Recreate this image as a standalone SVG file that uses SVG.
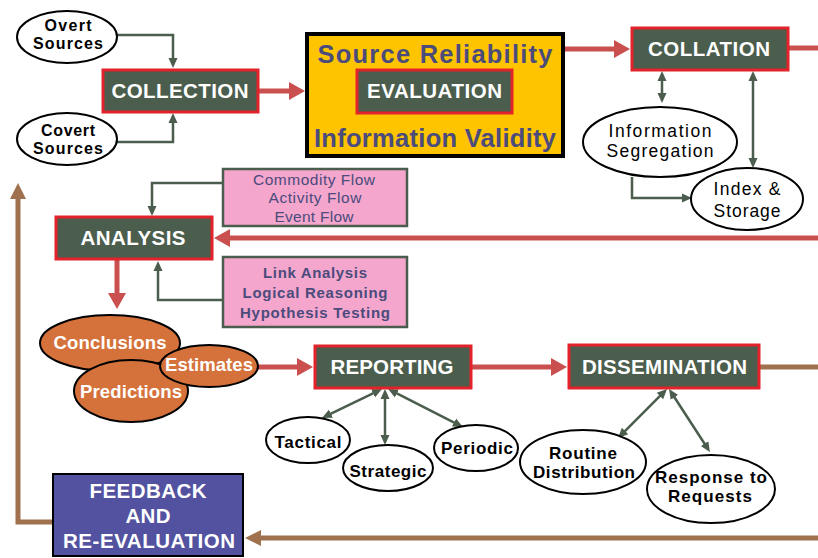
<svg xmlns="http://www.w3.org/2000/svg" width="818" height="558" viewBox="0 0 818 558">
<style>
.box{fill:#4b5d4d;stroke:#e3232b;stroke-width:3}
.bt{font-family:"Liberation Sans",Arial,sans-serif;font-weight:bold;font-size:20.5px;fill:#fff;text-anchor:middle}
.el{fill:#fff;stroke:#000;stroke-width:2}
.et{font-family:"Liberation Sans",Arial,sans-serif;font-size:17.5px;fill:#000;text-anchor:middle}
.es{font-size:16px;font-weight:bold}
.eb{font-weight:bold;font-size:17px}
.or{fill:#d5713a;stroke:#000;stroke-width:2}
.ot{font-family:"Liberation Sans",Arial,sans-serif;font-weight:bold;font-size:18.5px;fill:#fff;text-anchor:middle}
.pk{fill:#f4a6cc;stroke:#4b5d4d;stroke-width:2.5}
.pt{font-family:"Liberation Sans",Arial,sans-serif;font-size:15.5px;fill:#4b4b7c;text-anchor:middle}
.ptb{font-weight:bold;font-size:15px}
.yt{font-family:"Liberation Sans",Arial,sans-serif;font-weight:bold;font-size:25.5px;fill:#4b4b7c;text-anchor:middle}
.red{fill:none;stroke:#c9504f;stroke-width:5}
.brn{fill:none;stroke:#a0714f;stroke-width:5}
.dk{fill:none;stroke:#4b5d4d;stroke-width:2.5}
</style>
<defs>
<marker id="ar" markerUnits="userSpaceOnUse" markerWidth="16" markerHeight="18" refX="6" refY="9" orient="auto"><path d="M0,0 L16,9 L0,18 z" fill="#c9504f"/></marker>
<marker id="ab" markerUnits="userSpaceOnUse" markerWidth="16" markerHeight="16" refX="6" refY="8" orient="auto"><path d="M0,0 L16,8 L0,16 z" fill="#a0714f"/></marker>
<marker id="ad" markerUnits="userSpaceOnUse" markerWidth="10" markerHeight="10" refX="4" refY="5" orient="auto-start-reverse"><path d="M0,0.5 L10,5 L0,9.5 z" fill="#4b5d4d"/></marker>
</defs>

<g id="connectors">
<path class="dk" d="M117,35 H173 V62" marker-end="url(#ad)"/>
<path class="dk" d="M117,142 H173 V119" marker-end="url(#ad)"/>
<path class="red" d="M258,91 H295" marker-end="url(#ar)"/>
<path class="red" d="M565,49 H620" marker-end="url(#ar)"/>
<path class="red" d="M788,48 H818"/>
<path class="dk" d="M662,77 V97" marker-start="url(#ad)" marker-end="url(#ad)"/>
<path class="dk" d="M753,77 V162" marker-start="url(#ad)" marker-end="url(#ad)"/>
<path class="dk" d="M632,177 V198 H686" marker-end="url(#ad)"/>
<path class="red" d="M818,238 H224" marker-end="url(#ar)"/>
<path class="dk" d="M223,183 H152 V210" marker-end="url(#ad)"/>
<path class="dk" d="M223,300 H158 V267" marker-end="url(#ad)"/>
<path class="red" d="M117,260 V299" marker-end="url(#ar)"/>
<path class="red" d="M258,367 H303" marker-end="url(#ar)"/>
<path class="red" d="M471,367 H557" marker-end="url(#ar)"/>
<path class="brn" d="M759,367 H818"/>
<path class="brn" d="M818,538 H255" marker-end="url(#ab)"/>
<path class="brn" d="M53,522 H18 V193" marker-end="url(#ab)"/>
<path class="dk" d="M376.6,391.6 L327.4,415.4" marker-start="url(#ad)" marker-end="url(#ad)"/>
<path class="dk" d="M385,395 V439" marker-start="url(#ad)" marker-end="url(#ad)"/>
<path class="dk" d="M393.4,391.7 L457.6,424.3" marker-start="url(#ad)" marker-end="url(#ad)"/>
<path class="dk" d="M662.8,393.2 L622.2,433.8" marker-start="url(#ad)" marker-end="url(#ad)"/>
<path class="dk" d="M672.3,394 L706.7,447" marker-start="url(#ad)" marker-end="url(#ad)"/>
</g>

<g id="overt">
<ellipse class="el" cx="67" cy="37" rx="50" ry="26"/>
<text class="et es" x="68" y="31" textLength="47">Overt</text>
<text class="et es" x="68" y="49" textLength="70">Sources</text>
</g>
<g id="covert">
<ellipse class="el" cx="67" cy="139" rx="50" ry="26"/>
<text class="et es" x="68" y="136" textLength="54">Covert</text>
<text class="et es" x="68" y="154" textLength="70">Sources</text>
</g>
<g id="collection">
<rect class="box" x="103" y="70" width="155" height="42"/>
<text class="bt" x="180" y="98" textLength="137">COLLECTION</text>
</g>
<g id="evaluation">
<rect x="307" y="34" width="256" height="122" fill="#fec400" stroke="#000" stroke-width="4"/>
<text class="yt" x="435" y="63" textLength="235">Source Reliability</text>
<text class="yt" x="435" y="147" textLength="242">Information Validity</text>
<rect class="box" x="357" y="70" width="155" height="43"/>
<text class="bt" x="434.5" y="98" font-size="19" textLength="135">EVALUATION</text>
</g>
<g id="collation">
<rect class="box" x="632" y="28" width="156" height="42"/>
<text class="bt" x="709" y="56" textLength="122">COLLATION</text>
</g>
<g id="segregation">
<ellipse class="el" cx="660" cy="142" rx="77" ry="35"/>
<text class="et" x="660" y="137" textLength="103">Information</text>
<text class="et" x="660" y="157" textLength="107">Segregation</text>
</g>
<g id="storage">
<ellipse class="el" cx="747" cy="199" rx="56" ry="31"/>
<text class="et" x="747" y="195" textLength="67">Index &amp;</text>
<text class="et" x="747" y="217" textLength="67">Storage</text>
</g>
<g id="flows">
<rect class="pk" x="223" y="169" width="184" height="57"/>
<text class="pt" x="314" y="185" textLength="122">Commodity Flow</text>
<text class="pt" x="315" y="203" textLength="93">Activity Flow</text>
<text class="pt" x="314" y="222" textLength="79">Event Flow</text>
</g>
<g id="analysis">
<rect class="box" x="56" y="217" width="156" height="42"/>
<text class="bt" x="133" y="245" textLength="105">ANALYSIS</text>
</g>
<g id="methods">
<rect class="pk" x="223" y="257" width="184" height="70"/>
<text class="pt ptb" x="315" y="278" textLength="104">Link Analysis</text>
<text class="pt ptb" x="315" y="298" textLength="145">Logical Reasoning</text>
<text class="pt ptb" x="315" y="318" textLength="150">Hypothesis Testing</text>
</g>
<g id="conclusions">
<ellipse class="or" cx="110" cy="343" rx="70" ry="28"/>
<text class="ot" x="110" y="349" textLength="113">Conclusions</text>
</g>
<g id="predictions">
<ellipse class="or" cx="131" cy="391" rx="57" ry="31"/>
<text class="ot" x="131" y="398" textLength="102">Predictions</text>
</g>
<g id="estimates">
<ellipse class="or" cx="209" cy="366" rx="49" ry="21"/>
<text class="ot" x="209" y="371" textLength="88">Estimates</text>
</g>
<g id="reporting">
<rect class="box" x="315" y="346" width="156" height="42"/>
<text class="bt" x="392" y="374" textLength="123">REPORTING</text>
</g>
<g id="tactical">
<ellipse class="el" cx="308" cy="440" rx="42" ry="23"/>
<text class="et eb" x="308" y="448" textLength="67">Tactical</text>
</g>
<g id="strategic">
<ellipse class="el" cx="388" cy="468" rx="45" ry="23"/>
<text class="et eb" x="388" y="477" textLength="77">Strategic</text>
</g>
<g id="periodic">
<ellipse class="el" cx="476" cy="448" rx="42" ry="23"/>
<text class="et eb" x="477" y="454" textLength="72">Periodic</text>
</g>
<g id="dissemination">
<rect class="box" x="569" y="345" width="190" height="43"/>
<text class="bt" x="664.5" y="374" textLength="165">DISSEMINATION</text>
</g>
<g id="routine">
<ellipse class="el" cx="583" cy="462" rx="63" ry="32"/>
<text class="et eb" x="583" y="459" textLength="68">Routine</text>
<text class="et eb" x="584" y="478" textLength="102">Distribution</text>
</g>
<g id="response">
<ellipse class="el" cx="711" cy="489" rx="64" ry="34"/>
<text class="et eb" x="711" y="483" textLength="112">Response to</text>
<text class="et eb" x="710" y="502" textLength="84">Requests</text>
</g>
<g id="feedback">
<rect x="53" y="474" width="190" height="82" fill="#5252a0" stroke="#000" stroke-width="2"/>
<text class="bt" x="148" y="498" textLength="117">FEEDBACK</text>
<text class="bt" x="148" y="523" textLength="45">AND</text>
<text class="bt" x="149" y="548" textLength="172">RE-EVALUATION</text>
</g>
</svg>
